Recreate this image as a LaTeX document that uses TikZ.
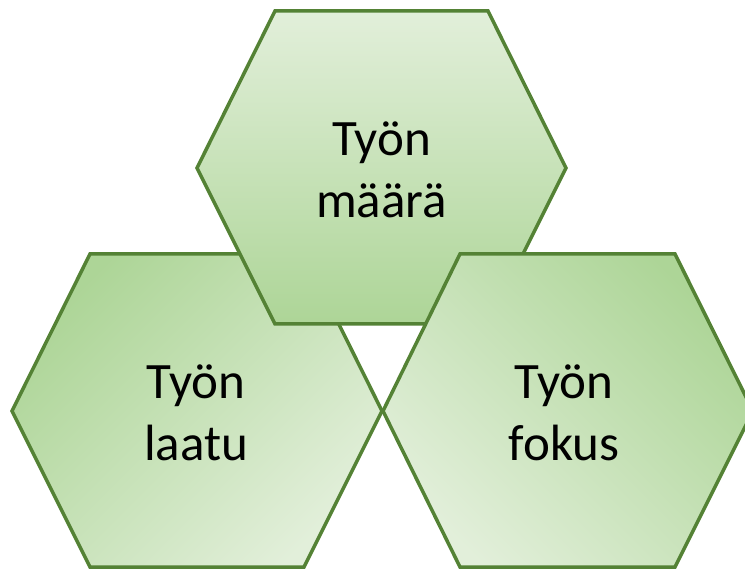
\documentclass[tikz,border=0pt]{standalone}
\usepackage{fontspec}
\setmainfont{Carlito}
\definecolor{hexline}{HTML}{548235}
\definecolor{hexdark}{HTML}{ADD597}
\definecolor{hexlight}{HTML}{E2EFDA}
\begin{document}
\begin{tikzpicture}[x=1pt,y=-1pt,
  hexcell/.style={draw=hexline,line width=3.5pt,line join=miter,
    top color=hexdark,bottom color=hexlight},
  hexlabel/.style={align=center,text=black,
    font=\fontsize{51}{62}\selectfont}]
\useasboundingbox (0,0) rectangle (745,569);
% left cell: darker towards the top left
\path[hexcell,shading angle=45]
  (90,254) -- (304,254) -- (382,411) -- (304,567) -- (90,567) -- (12,411) -- cycle;
% top cell: lighter at the top, darker at the bottom
\path[hexcell,top color=hexlight,bottom color=hexdark]
  (275,11) -- (488,11) -- (566,168) -- (488,324) -- (275,324) -- (197,168) -- cycle;
% right cell: darker towards the top right
\path[hexcell,shading angle=-45]
  (460,254) -- (675,254) -- (753,411) -- (675,567) -- (460,567) -- (383,411) -- cycle;
\node[hexlabel] (maara) at (381.5,170) {Työn\\määrä};
\node[hexlabel] (laatu) at (196,413) {Työn\\laatu};
\node[hexlabel] (fokus) at (564,413) {Työn\\fokus};
\end{tikzpicture}
\end{document}
